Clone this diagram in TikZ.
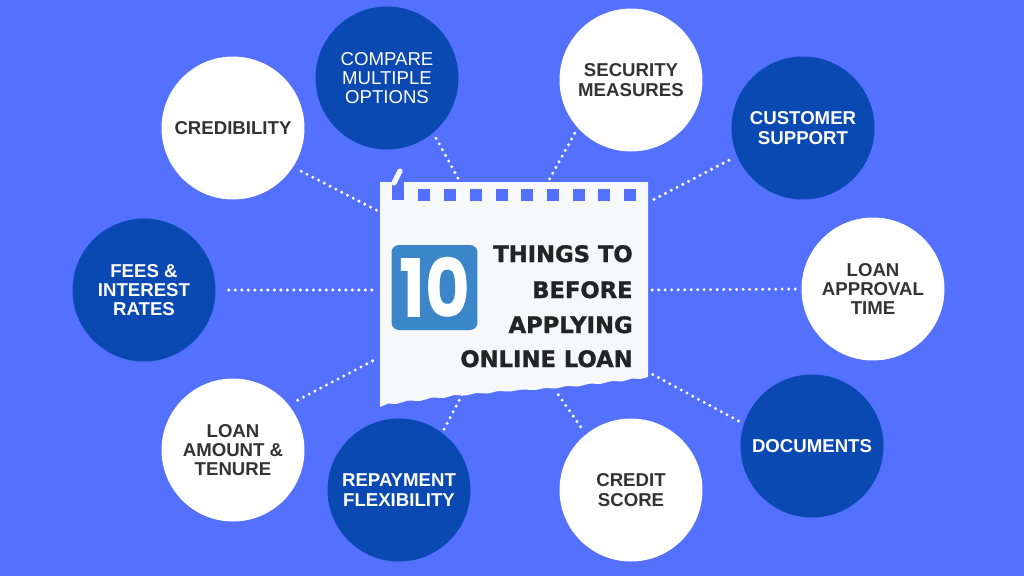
\documentclass[tikz,border=0pt]{standalone}
\usepackage{fontspec}
\setmainfont{Liberation Sans}
\newfontfamily\titlefont[BoldFeatures={FakeBold=1.4}]{DejaVu Sans}
\newfontfamily\badgefont{Poppins}
\definecolor{lnBack}{RGB}{84,112,254}
\definecolor{lnDark}{RGB}{10,72,178}
\definecolor{lnPaper}{RGB}{246,248,250}
\definecolor{lnInk}{RGB}{36,36,36}
\definecolor{lnText}{RGB}{51,51,51}
\definecolor{lnBadge}{RGB}{58,134,200}
\tikzset{
  lnCircle/.style={circle, inner sep=0pt, minimum size=2.86cm, align=center,
                   font=\fontsize{10.6}{11}\selectfont\bfseries},
  lnWhite/.style={lnCircle, fill=white, text=lnText},
  lnDarkC/.style={lnCircle, fill=lnDark, text=white},
  lnDots/.style={draw=white, line width=1.9pt, line cap=round,
                 dash pattern=on 0pt off 3.7pt, shorten <=#1},
  lnHole/.style={fill=lnBack},
  lnTitle/.style={anchor=base east, inner sep=0pt, text=lnInk,
                  font=\titlefont\fontsize{12.9}{14}\selectfont\bfseries}
}

\begin{document}
\begin{tikzpicture}[x=0.02cm,y=-0.02cm]
  \useasboundingbox (0,0) rectangle (1024,576);
  \fill[lnBack] (0,0) rectangle (1024,576);

  \node[lnWhite] (cred) at (233,128) {CREDIBILITY};
  \node[lnDarkC, font=\fontsize{10.6}{11}\selectfont] (comp) at (387,78)
        {COMPARE\\MULTIPLE\\OPTIONS};
  \node[lnWhite] (sec) at (631,80) {SECURITY\\MEASURES};
  \node[lnDarkC] (cust) at (803,128) {CUSTOMER\\SUPPORT};
  \node[lnDarkC] (fees) at (144,290) {FEES \&\\INTEREST\\RATES};
  \node[lnWhite] (appr) at (873,289) {LOAN\\APPROVAL\\TIME};
  \node[lnWhite] (amt) at (233,450) {LOAN\\AMOUNT \&\\TENURE};
  \node[lnDarkC] (rep) at (399,490) {REPAYMENT\\FLEXIBILITY};
  \node[lnWhite] (score) at (631,490) {CREDIT\\SCORE};
  \node[lnDarkC] (docs) at (812,446) {DOCUMENTS};

  \coordinate (pCred) at (380,212);
  \coordinate (pComp) at (459,180);
  \coordinate (pSec) at (549,180);
  \coordinate (pCust) at (649,202);
  \coordinate (pFees) at (378,290);
  \coordinate (pAppr) at (650,290);
  \coordinate (pAmt) at (378,358);
  \coordinate (pRep) at (463,393);
  \coordinate (pScore) at (555,390);
  \coordinate (pDocs) at (650,373);

  \draw[lnDots=0.18cm] (cred.-33) -- (pCred);
  \draw[lnDots=0.12cm] (comp.-50) -- (pComp);
  \draw[lnDots=0.12cm] (sec.-138) -- (pSec);
  \draw[lnDots=0.18cm] (cust.-157) -- (pCust);
  \draw[lnDots=0.26cm] (fees.0) -- (pFees);
  \draw[lnDots=0.12cm] (appr.180) -- (pAppr);
  \draw[lnDots=0.20cm] (amt.39) -- (pAmt);
  \draw[lnDots=0.08cm] (rep.53) -- (pRep);
  \draw[lnDots=0.18cm] (score.129) -- (pScore);
  \draw[lnDots=0.12cm] (docs.162) -- (pDocs);

  \fill[lnPaper] (380,182) -- (648,182) -- (648,377) -- (640,379) -- (632,378.5)
    -- (622,381.5) -- (612,381) -- (600,384) -- (590,383.5) -- (578,386.5)
    -- (566,386) -- (556,388.5) -- (545,388) -- (535,390) -- (522,389.5)
    -- (510,391.5) -- (498,391) -- (488,393.5) -- (476,393) -- (466,395.5)
    -- (454,395) -- (444,398) -- (432,397.5) -- (420,401) -- (408,400.5)
    -- (396,404) -- (388,403.5) -- (380,407) -- cycle;
  \fill[lnHole] (392,181) rectangle (404,200);
  \foreach \hx in {418,444,470,496,521,547,573,598,624}
    \fill[lnHole] (\hx,189) rectangle ++(12,12);
  \draw[lnPaper, line width=3pt, line cap=round] (394,183) -- (400,171);

  \node[fill=lnBadge, rounded corners=0.15cm, minimum width=1.72cm,
        minimum height=1.70cm, inner sep=0pt, text=white,
        font=\badgefont\fontsize{46}{46}\selectfont\bfseries] (badge)
        at (434.5,287.5) {\scalebox{0.85}[1]{10}};

  \node[lnTitle] (t1) at (633,262) {THINGS TO};
  \node[lnTitle] (t2) at (633,298) {BEFORE};
  \node[lnTitle] (t3) at (633,333) {APPLYING};
  \node[lnTitle] (t4) at (633,367) {ONLINE LOAN};
\end{tikzpicture}
\end{document}
